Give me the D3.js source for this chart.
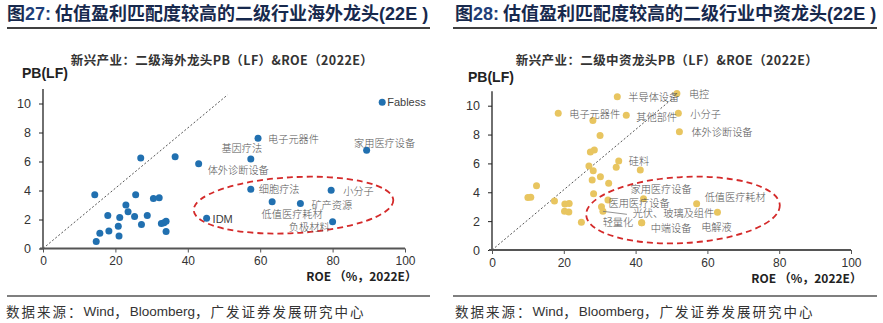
<!DOCTYPE html>
<html><head><meta charset="utf-8">
<script src="https://cdn.jsdelivr.net/npm/d3@7"></script>
<style>
html,body{margin:0;padding:0;background:#fff;}
svg{display:block;}
</style></head>
<body>
<script>
// ---------- DATA ----------
const xTicks = [0, 20, 40, 60, 80, 100];
const yTicks = [0, 2, 4, 6, 8, 10];

const titles = ["估值盈利匹配度较高的二级行业海外龙头", "估值盈利匹配度较高的二级行业中资龙头"];
const figNums = ["27", "28"];
const subtitles = ["新兴产业：二级海外龙头PB（LF）&ROE（2022E）", "新兴产业：二级中资龙头PB（LF）&ROE（2022E）"];

const overseasRoe = [14.3,14.7,15.7,17.9,18.2,20.8,21.0,21.2,22.9,23.5,25.3,25.6,27.0,27.2,28.8,30.5,32.1,32.7,33.4,34.0,34.0,36.5,
  43.0,45.2,57.4,59.4,57.4,63.3,71.1,79.6,80.0,89.4,93.7];
const overseasPb = [3.7,0.48,1.06,2.28,1.2,1.54,0.87,2.14,3.0,2.53,2.2,3.7,6.25,1.66,2.28,3.45,3.5,1.72,1.77,1.88,1.17,6.32,
  5.84,2.09,6.18,7.6,4.09,3.22,3.1,4.02,1.84,6.78,10.09];
const overseasNames = ["","","","","","","","","","","","","","","","","","","","","","",
  "体外诊断设备","IDM","基因疗法","电子元器件","细胞疗法","低值医疗耗材","矿产资源","小分子","负极材料","家用医疗设备","Fabless"];

const domesticRoe = [28.1,30.1,27.4,28.5,27.0,28.2,34.6,41.3,30.2,27.9,32.5,12.4,10.0,10.8,17.4,28.3,32.3,20.3,21.5,20.2,21.4,24.9,
  34.9,18.45,37.4,51.5,51.9,52.2,35.3,42.2,57.0,30.5,30.9,41.7,41.7,62.8];
const domesticPb = [8.98,7.94,6.79,6.93,5.82,5.50,5.73,5.54,5.08,4.85,4.62,4.46,3.63,3.65,3.39,3.90,3.46,3.19,3.23,2.68,2.63,1.92,
  10.62,9.47,9.33,10.85,9.47,8.2,6.17,3.56,3.21,3.0,2.68,1.89,1.89,2.61];
const domesticNames = ["","","","","","","","","","","","","","","","","","","","","","",
  "半导体设备","电子元器件","其他部件","电控","小分子","体外诊断设备","硅料","家用医疗设备","低值医疗耗材","医用医疗设备","轻量化","光伏、玻璃及组件","中端设备","电解液"];

// reference diagonal end (ROE, PB) and highlighted ellipse (cx, cy, rx, ry in data units)
const overseasDiag = [51, 10.6];
const domesticDiag = [52, 10.85];
const overseasEllipse = [69.2, 2.99, 27.6, 1.93];
const domesticEllipse = [53.2, 2.77, 27.0, 2.29];

// ---------- LAYOUT / STYLE ----------
const W = 883, H = 323;
const CJK = "'Noto Sans CJK SC','Noto Sans',sans-serif";
const SANS = "'Liberation Sans',Arial,sans-serif";

const svg = d3.select("body").append("svg").attr("width", W).attr("height", H);

const leftLayout = {
  "Fabless": ["start", 5, 0], "电子元器件": ["start", 10, 0], "基因疗法": ["middle", -9, -11],
  "家用医疗设备": ["middle", 18, -8], "体外诊断设备": ["start", 9, 6], "细胞疗法": ["start", 8, -1],
  "小分子": ["start", 12, 0], "矿产资源": ["start", 11, 1], "低值医疗耗材": ["middle", 20, 12],
  "负极材料": ["end", -3, 5], "IDM": ["start", 6, 1]
};
const rightLayout = {
  "半导体设备": ["start", 11, 0], "电子元器件": ["start", 11, 0], "其他部件": ["start", 10, 1],
  "电控": ["start", 12, 0], "小分子": ["start", 12, 0], "体外诊断设备": ["start", 12, 0],
  "硅料": ["start", 10, 0], "家用医疗设备": ["start", -13, -10], "低值医疗耗材": ["start", 8, -7],
  "医用医疗设备": ["start", 7, -4], "轻量化": ["middle", 15, 10], "光伏、玻璃及组件": ["start", -9, -10],
  "中端设备": ["start", 9, 5], "电解液": ["middle", -1, 14]
};

const panels = [
  { xr: [43, 405], yr: [248.5, 103.5], roe: overseasRoe, pb: overseasPb, names: overseasNames,
    color: "#2170b0", diag: overseasDiag, ell: overseasEllipse, ellRot: -3, layout: leftLayout,
    pbX: 22, pbY: 73, roeX: 417, roeY: 275, subX: 222, ruleX: [7, 430], titleX: 7, srcX: 6 },
  { xr: [492, 851], yr: [250, 105.7], roe: domesticRoe, pb: domesticPb, names: domesticNames,
    color: "#e8c560", diag: domesticDiag, ell: domesticEllipse, ellRot: -3, layout: rightLayout,
    pbX: 468, pbY: 77, roeX: 862, roeY: 277, subX: 667, ruleX: [453, 877], titleX: 455, srcX: 455 }
];

panels.forEach((p, i) => {
  const g = svg.append("g");
  const x = d3.scaleLinear().domain([0, 100]).range(p.xr);
  const y = d3.scaleLinear().domain([0, 10]).range(p.yr);

  // Title
  const t = g.append("text").attr("x", p.titleX).attr("y", 20)
    .attr("font-family", CJK).attr("font-weight", 700).attr("font-size", 18)
    .attr("fill", "#17294d");
  t.append("tspan").text("图");
  t.append("tspan").attr("fill", "#1f3f7a").attr("font-family", SANS).text(figNums[i] + ":");
  t.append("tspan").text(" " + titles[i]);
  t.append("tspan").attr("font-family", SANS).text("(22E )");
  g.append("line").attr("x1", p.ruleX[0]).attr("x2", p.ruleX[1]).attr("y1", 28).attr("y2", 28)
    .attr("stroke", "#000").attr("stroke-width", 1.3);

  // Subtitle
  g.append("text").attr("x", p.subX).attr("y", 59).attr("text-anchor", "middle").attr("dominant-baseline", "central")
    .attr("font-family", CJK).attr("font-weight", 700).attr("font-size", 12.5).attr("letter-spacing", 0.4)
    .attr("fill", "#333").text(subtitles[i]);

  // Axes
  const yAxis = d3.axisLeft(y).tickValues(yTicks).tickSize(4).tickSizeOuter(0).tickPadding(8);
  const ya = g.append("g").attr("transform", `translate(${p.xr[0]},0)`).call(yAxis);
  ya.attr("font-size", null);
  ya.select(".domain").attr("d", `M0,${y(0)}V${y(11)}`).attr("stroke", "#222").attr("stroke-width", 1.3);
  ya.selectAll(".tick line").attr("stroke", "#222");
  ya.selectAll("text").attr("font-family", SANS).attr("font-size", 12.5).attr("fill", "#333");

  const xAxis = d3.axisBottom(x).tickValues(xTicks).tickSize(4).tickSizeOuter(0).tickPadding(4);
  const xa = g.append("g").attr("transform", `translate(0,${p.yr[0]})`).call(xAxis);
  xa.attr("font-size", null);
  xa.select(".domain").attr("d", `M${x(0) - 3},0H${x(100)}`).attr("stroke", "#555").attr("stroke-width", 2.2);
  xa.selectAll(".tick line").attr("stroke", "#555");
  xa.selectAll("text").attr("font-family", SANS).attr("font-size", 12).attr("fill", "#333");

  // Axis titles
  g.append("text").attr("x", p.pbX).attr("y", p.pbY).attr("dominant-baseline", "central")
    .attr("font-family", SANS).attr("font-weight", 700).attr("font-size", 14).attr("fill", "#222").text("PB(LF)");
  g.append("text").attr("x", p.roeX).attr("y", p.roeY).attr("text-anchor", "end").attr("dominant-baseline", "central")
    .attr("font-family", CJK).attr("font-weight", 700).attr("font-size", 12).attr("fill", "#222").text("ROE （%，2022E）");

  // Diagonal reference line
  g.append("line").attr("x1", x(0)).attr("y1", y(0)).attr("x2", x(p.diag[0])).attr("y2", y(p.diag[1]))
    .attr("stroke", "#555").attr("stroke-width", 1).attr("stroke-dasharray", "2,2");

  // Ellipse
  const cx = x(p.ell[0]), cy = y(p.ell[1]);
  const rx = x(p.ell[2]) - x(0), ry = y(0) - y(p.ell[3]);
  g.append("ellipse").attr("cx", cx).attr("cy", cy).attr("rx", rx).attr("ry", ry)
    .attr("transform", `rotate(${p.ellRot},${cx},${cy})`)
    .attr("fill", "none").attr("stroke", "#d42a2a").attr("stroke-width", 1.8).attr("stroke-dasharray", "6,4");

  // Points
  const data = p.roe.map((r, k) => ({ roe: r, pb: p.pb[k], name: p.names[k] }));
  g.append("g").selectAll("circle").data(data).join("circle")
    .attr("cx", d => x(d.roe)).attr("cy", d => y(d.pb)).attr("r", 3.5).attr("fill", p.color);

  // Leader line for 轻量化
  data.filter(d => d.name === "轻量化").forEach(d => {
    g.append("line").attr("x1", x(d.roe)).attr("y1", y(d.pb)).attr("x2", x(d.roe) + 24).attr("y2", y(d.pb) + 3)
      .attr("stroke", "#777").attr("stroke-width", 0.8);
  });

  // Labels
  const isLatin = s => /^[A-Za-z]+$/.test(s);
  g.append("g").selectAll("text").data(data.filter(d => d.name)).join("text")
    .attr("x", d => x(d.roe) + p.layout[d.name][1])
    .attr("y", d => y(d.pb) + p.layout[d.name][2])
    .attr("text-anchor", d => p.layout[d.name][0])
    .attr("dominant-baseline", "central")
    .attr("font-family", d => isLatin(d.name) ? SANS : CJK)
    .attr("font-size", d => isLatin(d.name) ? 11 : 10.2)
    .attr("font-weight", 300)
    .attr("fill", d => isLatin(d.name) ? "#404040" : "#555")
    .text(d => d.name);

  // Source
  g.append("line").attr("x1", p.ruleX[0]).attr("x2", p.ruleX[1]).attr("y1", 296).attr("y2", 296)
    .attr("stroke", "#000").attr("stroke-width", 1.2);
  const s = g.append("text").attr("x", p.srcX).attr("y", 311).attr("dominant-baseline", "central")
    .attr("font-size", 13.5).attr("fill", "#333");
  s.append("tspan").attr("font-family", CJK).attr("letter-spacing", 2).text("数据来源：");
  s.append("tspan").attr("font-family", SANS).text("Wind");
  s.append("tspan").attr("font-family", CJK).attr("letter-spacing", 2).text("，");
  s.append("tspan").attr("font-family", SANS).text("Bloomberg");
  s.append("tspan").attr("font-family", CJK).attr("letter-spacing", 2).text("，广发证券发展研究中心");
});
</script>
</body></html>
